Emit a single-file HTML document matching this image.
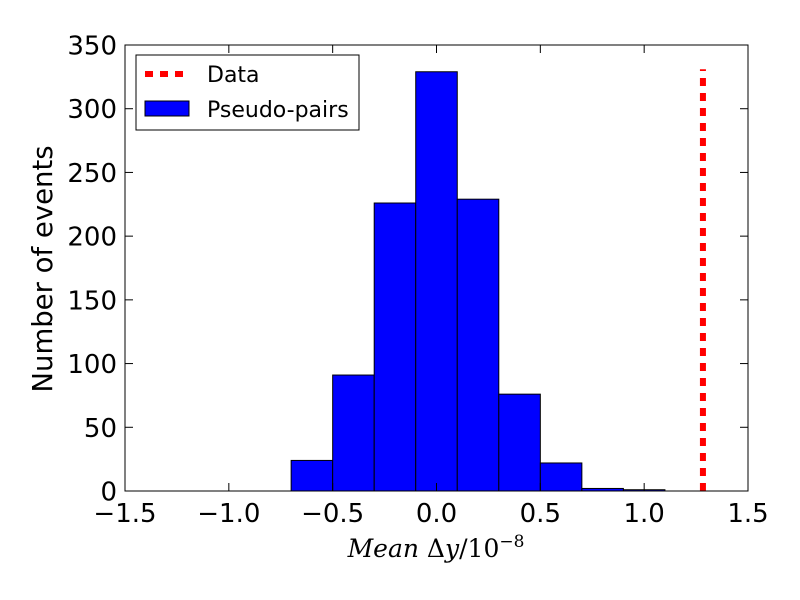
<!DOCTYPE html>
<html><head><meta charset="utf-8"><style>body{margin:0;background:#fff}svg{display:block}text{font-family:"DejaVu Sans",sans-serif}</style></head>
<body>
<svg id="chart" width="800" height="600" xmlns="http://www.w3.org/2000/svg">
<rect width="800" height="600" fill="#fff"/>
<g id="bars"></g><g id="ticks"></g>
<line id="dataline" stroke="red" stroke-width="6" stroke-dasharray="8,7"/>
<rect x="125" y="45" width="623" height="446" fill="none" stroke="#000" stroke-width="1"/>
<text x="52" y="269" font-size="27.5" text-anchor="middle" transform="rotate(-90 52 269)">Number of events</text>
<text x="436" y="557" font-size="25" text-anchor="middle" style="font-family:'DejaVu Serif',serif"><tspan font-style="italic">Mean</tspan> Δ<tspan font-style="italic">y</tspan>/10<tspan dy="-10" font-size="17">−8</tspan></text>
<g>
<rect x="136" y="55" width="223" height="75" fill="#fff" stroke="#000"/>
<line x1="145" y1="74" x2="189" y2="74" stroke="red" stroke-width="6" stroke-dasharray="8,7"/>
<text x="207" y="82" font-size="22">Data</text>
<rect x="145" y="101" width="44" height="15" fill="#0000ff" stroke="#000"/>
<text x="207" y="117" font-size="22">Pseudo-pairs</text>
</g>
</svg>
<script>
const binEdges=[-0.7,-0.5,-0.3,-0.1,0.1,0.3,0.5,0.7,0.9,1.1];
const counts=[24,91,226,329,229,76,22,2,1];
const dataValue=1.283;
const dataLineTop=331;
const xTicks=[-1.5,-1.0,-0.5,0.0,0.5,1.0,1.5];
const xTickLabels=["−1.5","−1.0","−0.5","0.0","0.5","1.0","1.5"];
const yTicks=[0,50,100,150,200,250,300,350];
const X0=125,X1=748,Y0=491,Y1=45;
const xs=v=>X0+(v+1.5)/3*(X1-X0);
const ys=v=>Y0-v/350*(Y0-Y1);
const NS="http://www.w3.org/2000/svg";
const bars=document.getElementById('bars');
counts.forEach((c,i)=>{
 const r=document.createElementNS(NS,'rect');
 r.setAttribute('x',xs(binEdges[i]));r.setAttribute('width',xs(binEdges[i+1])-xs(binEdges[i]));
 r.setAttribute('y',ys(c));r.setAttribute('height',ys(0)-ys(c));
 r.setAttribute('fill','#0000ff');r.setAttribute('stroke','#000');r.setAttribute('stroke-width','1');
 
 
 bars.appendChild(r);
});
const dl=document.getElementById('dataline');
dl.setAttribute('x1',xs(dataValue));dl.setAttribute('x2',xs(dataValue));
dl.setAttribute('y1',ys(0));dl.setAttribute('y2',ys(dataLineTop));
const tk=document.getElementById('ticks');
function add(tag,attrs,name,txt){const e=document.createElementNS(NS,tag);for(const k in attrs)e.setAttribute(k,attrs[k]);
 
 
 if(txt!==undefined)e.textContent=txt;tk.appendChild(e);}
xTicks.forEach((v,i)=>{const x=xs(v);
 add('line',{x1:x,x2:x,y1:Y0,y2:Y0-8,stroke:'#000'},'x-tick');
 add('line',{x1:x,x2:x,y1:Y1,y2:Y1+8,stroke:'#000'},'x-tick-top');
 add('text',{x:x,y:522,'font-size':26,'text-anchor':'middle'},'x-tick-label',xTickLabels[i]);});
yTicks.forEach(v=>{const y=ys(v);
 add('line',{x1:X0,x2:X0+8,y1:y,y2:y,stroke:'#000'},'y-tick');
 add('line',{x1:X1,x2:X1-8,y1:y,y2:y,stroke:'#000'},'y-tick-right');
 add('text',{x:117,y:y+9.5,'font-size':26,'text-anchor':'end'},'y-tick-label',String(v));});
</script>
</body></html>
